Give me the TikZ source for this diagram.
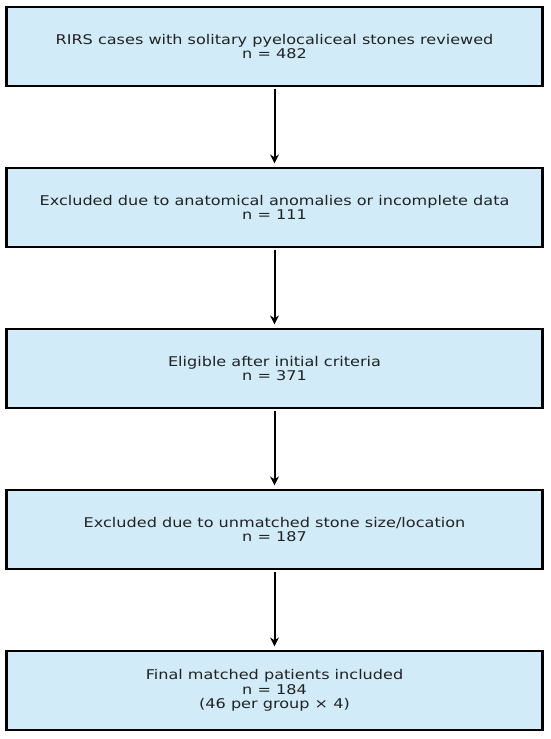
\documentclass[tikz,border=0pt]{standalone}
\usepackage{fontspec}
\setmainfont{DejaVu Sans}[FakeStretch=1.2]
\usetikzlibrary{arrows.meta}
\definecolor{boxfill}{HTML}{D2EBF8}
\definecolor{txt}{HTML}{222222}
\begin{document}
\begin{tikzpicture}[x=1pt,y=-1pt,
  stepbox/.style={draw=black, line width=2.2pt, fill=boxfill, minimum width=536pt, minimum height=79pt, inner sep=0pt, align=center, text=txt, font=\fontsize{13.4}{14.5}\selectfont},
  conn/.style={-{Stealth[length=9pt,width=9pt]}, line width=2pt, black}]
\useasboundingbox (0,0) rectangle (550,739);
\node[stepbox] (b1) at (274.5,46.5) {RIRS cases with solitary pyelocaliceal stones reviewed\\n = 482};
\node[stepbox] (b2) at (274.5,207.5) {Excluded due to anatomical anomalies or incomplete data\\n = 111};
\node[stepbox] (b3) at (274.5,368.5) {Eligible after initial criteria\\n = 371};
\node[stepbox] (b4) at (274.5,529.5) {Excluded due to unmatched stone size/location\\n = 187};
\node[stepbox] (b5) at (274.5,690.5) {Final matched patients included\\n = 184\\(46 per group × 4)};
\draw[conn] ([yshift=-1.5pt]b1.south) -- ([yshift=3.5pt]b2.north);
\draw[conn] ([yshift=-1.5pt]b2.south) -- ([yshift=3.5pt]b3.north);
\draw[conn] ([yshift=-1.5pt]b3.south) -- ([yshift=3.5pt]b4.north);
\draw[conn] ([yshift=-1.5pt]b4.south) -- ([yshift=3.5pt]b5.north);
\end{tikzpicture}
\end{document}
